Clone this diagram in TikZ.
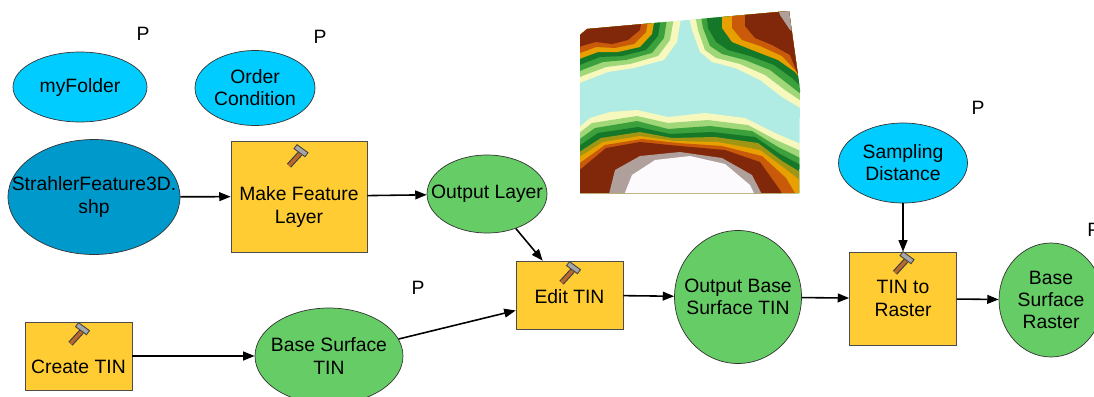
\documentclass[tikz,border=0pt]{standalone}
\usepackage{fontspec}
\setmainfont{Liberation Sans}
\usetikzlibrary{shapes.geometric,arrows.meta,calc}

\definecolor{varblue}{RGB}{0,204,255}
\definecolor{datablue}{RGB}{0,153,204}
\definecolor{toolyellow}{RGB}{255,204,51}
\definecolor{outgreen}{RGB}{102,204,102}
\definecolor{handlebrown}{RGB}{185,105,45}
% terrain shades
\definecolor{tcyan}{RGB}{176,236,228}
\definecolor{tpale}{RGB}{246,248,190}
\definecolor{tlgreen}{RGB}{160,215,120}
\definecolor{tgreen}{RGB}{60,160,60}
\definecolor{tdgreen}{RGB}{20,120,40}
\definecolor{tolive}{RGB}{160,150,20}
\definecolor{torange}{RGB}{232,160,0}
\definecolor{trust}{RGB}{200,90,10}
\definecolor{tbrown}{RGB}{130,40,10}
\definecolor{tgray}{RGB}{175,160,155}
\definecolor{twhite}{RGB}{252,250,252}

\begin{document}
\begin{tikzpicture}[x=0.02cm, y=-0.02cm,
    every node/.style={font=\fontsize{11}{12.6}\selectfont, align=center},
    param/.style={ellipse, draw=black!80, fill=varblue, inner sep=0pt},
    data/.style={ellipse, draw=black!80, fill=datablue, inner sep=0pt},
    derived/.style={ellipse, draw=black!80, fill=outgreen, inner sep=0pt},
    tool/.style={rectangle, draw=black!70, fill=toolyellow, inner sep=0pt},
    flow/.style={-{Triangle[length=6.5pt,width=5pt]}, line width=0.9pt},
    hammer/.pic={
      \draw[line width=3.2pt, black!75] (-8,10) -- (3,-2);
      \draw[line width=1.9pt, handlebrown] (-8,10) -- (3,-2);
      \filldraw[fill=black!35, draw=black!75, line width=0.5pt]
        (-3,-7) -- (0,-11) -- (11,-3) -- (8,1) -- cycle;
    }
    ]
\useasboundingbox (0,0) rectangle (1094,396);

% terrain preview
\begin{scope}
\clip (580,35) -- (587,29) -- (789,11) -- (800,90) -- (799,193) -- (580,193) -- cycle;
\fill[tcyan] (570,0) rectangle (810,210);
\fill[tpale]   (570,135) -- (590,118) -- (610,112) -- (637,110) -- (668,117) -- (705,113) -- (745,118) -- (775,133) -- (810,148) -- (810,210) -- (570,210) -- cycle;
\fill[tlgreen] (570,140) -- (592,123) -- (637,116) -- (668,123) -- (708,120) -- (748,125) -- (776,140) -- (810,155) -- (810,210) -- (570,210) -- cycle;
\fill[tgreen]  (570,146) -- (595,128) -- (637,121) -- (668,129) -- (710,126) -- (752,131) -- (778,147) -- (810,163) -- (810,210) -- (570,210) -- cycle;
\fill[tdgreen] (570,152) -- (598,133) -- (638,127) -- (670,134) -- (712,132) -- (755,137) -- (780,154) -- (810,170) -- (810,210) -- (570,210) -- cycle;
\fill[tolive]  (570,158) -- (601,138) -- (640,132) -- (672,138) -- (715,137) -- (758,143) -- (782,161) -- (810,178) -- (810,210) -- (570,210) -- cycle;
\fill[torange] (570,163) -- (603,142) -- (640,136) -- (675,141) -- (718,142) -- (760,150) -- (784,168) -- (810,188) -- (810,210) -- (570,210) -- cycle;
\fill[trust]   (570,170) -- (605,145) -- (642,139) -- (678,143) -- (722,146) -- (762,156) -- (786,178) -- (805,210) -- (570,210) -- cycle;
\fill[tbrown]  (570,178) -- (606,148) -- (640,142) -- (680,146) -- (725,150) -- (760,162) -- (780,190) -- (790,210) -- (570,210) -- cycle;
\fill[tgray]   (605,210) -- (615,170) -- (640,156) -- (680,152) -- (722,158) -- (752,175) -- (770,210) -- cycle;
\fill[twhite]  (618,210) -- (632,175) -- (655,160) -- (690,156) -- (725,164) -- (750,185) -- (762,210) -- cycle;
\fill[tpale]   (570,0) -- (684,0) -- (677,42) -- (664,60) -- (634,68) -- (608,72) -- (582,82) -- (570,90) -- cycle;
\fill[tlgreen] (570,0) -- (677,0) -- (670,40) -- (658,56) -- (630,64) -- (606,67) -- (582,76) -- (570,84) -- cycle;
\fill[tgreen]  (570,0) -- (670,0) -- (664,38) -- (652,53) -- (626,60) -- (603,62) -- (582,70) -- (570,78) -- cycle;
\fill[tdgreen] (570,0) -- (664,0) -- (658,36) -- (646,50) -- (622,56) -- (600,57) -- (582,64) -- (570,70) -- cycle;
\fill[torange] (570,0) -- (658,0) -- (652,34) -- (640,47) -- (618,52) -- (598,52) -- (582,58) -- (570,62) -- cycle;
\fill[trust]   (570,0) -- (652,0) -- (646,32) -- (634,44) -- (615,48) -- (596,47) -- (583,52) -- (570,56) -- cycle;
\fill[tbrown]  (570,0) -- (645,0) -- (640,30) -- (628,40) -- (612,44) -- (596,42) -- (585,45) -- (570,50) -- cycle;
\fill[tpale]   (685,0) -- (692,30) -- (700,52) -- (712,62) -- (735,68) -- (760,80) -- (782,97) -- (810,114) -- (810,0) -- cycle;
\fill[tlgreen] (692,0) -- (698,30) -- (705,50) -- (716,58) -- (740,64) -- (765,75) -- (785,90) -- (810,107) -- (810,0) -- cycle;
\fill[tgreen]  (698,0) -- (703,28) -- (710,46) -- (722,54) -- (745,60) -- (770,70) -- (788,84) -- (810,101) -- (810,0) -- cycle;
\fill[tdgreen] (705,0) -- (708,28) -- (716,42) -- (728,50) -- (750,56) -- (774,65) -- (792,78) -- (810,96) -- (810,0) -- cycle;
\fill[torange] (722,0) -- (722,28) -- (732,42) -- (752,50) -- (778,60) -- (795,72) -- (810,91) -- (810,0) -- cycle;
\fill[trust]   (732,0) -- (732,28) -- (742,40) -- (760,46) -- (782,56) -- (810,86) -- (810,0) -- cycle;
\fill[tbrown]  (745,0) -- (745,26) -- (755,38) -- (772,45) -- (790,55) -- (800,80) -- (810,80) -- (810,0) -- cycle;
\fill[tgray]   (775,0) -- (780,15) -- (790,30) -- (810,38) -- (810,0) -- cycle;
\fill[twhite]  (785,0) -- (792,12) -- (810,20) -- (810,0) -- cycle;
\end{scope}

\node[param, minimum width=2.68cm, minimum height=1.4cm, label={center:myFolder}] (folder) at (80,87) {};
\node[param, minimum width=2.4cm, minimum height=1.5cm, label={center:Order\\Condition}] (cond) at (255,88) {};
\node[data, minimum width=3.44cm, minimum height=2.3cm, label={center:StrahlerFeature3D.\\shp}] (shp) at (94,197) {};
\node[tool, minimum width=2.72cm, minimum height=2.22cm, label={[yshift=-6pt]center:Make Feature\\Layer}] (mfl) at (299,196.5) {};
\node[derived, minimum width=2.4cm, minimum height=1.56cm, label={center:Output Layer}] (outlyr) at (487,194) {};
\node[tool, minimum width=2.14cm, minimum height=1.36cm, label={[yshift=-1pt]center:Edit TIN}] (edittin) at (569.5,295) {};
\node[derived, minimum width=2.54cm, minimum height=2.66cm, label={center:Output Base\\Surface TIN}] (obstin) at (738,297) {};
\node[param, minimum width=2.58cm, minimum height=1.6cm, label={center:Sampling\\Distance}] (sampdist) at (903,163) {};
\node[tool, minimum width=2.14cm, minimum height=1.86cm, label={center:TIN to\\Raster}] (tin2r) at (903,298.5) {};
\node[derived, minimum width=2.08cm, minimum height=2.28cm, label={center:Base\\Surface\\Raster}] (bsraster) at (1051,300) {};
\node[tool, minimum width=2.14cm, minimum height=1.36cm, label={[yshift=-6pt]center:Create TIN}] (createtin) at (78.5,356) {};
\node[derived, minimum width=2.96cm, minimum height=1.92cm, label={center:Base Surface\\TIN}] (bstin) at (329,356) {};

\pic at ($(mfl.north)+(-2,15)$) {hammer};
\pic at ($(edittin.north)+(0,12)$) {hammer};
\pic at ($(tin2r.north)+(0,11)$) {hammer};
\pic at ($(createtin.north)+(0,12)$) {hammer};

\node (pfolder) at (143,34) {P};
\node (pcond) at (320,37) {P};
\node (psamp) at (978,108) {P};
\node (pbstin) at (418,288) {P};
\node[anchor=west, inner sep=0pt] (praster) at (1087,230) {P};

\draw[flow] (shp) -- (mfl);
\draw[flow] (mfl) -- (outlyr);
\draw[flow] (outlyr) -- (edittin.128);
\draw[flow] (bstin) -- (edittin.196);
\draw[flow] (edittin) -- (obstin);
\draw[flow] (obstin) -- (tin2r);
\draw[flow] (sampdist) -- (tin2r);
\draw[flow] (tin2r) -- (bsraster);
\draw[flow] (createtin) -- (bstin);
\end{tikzpicture}
\end{document}
